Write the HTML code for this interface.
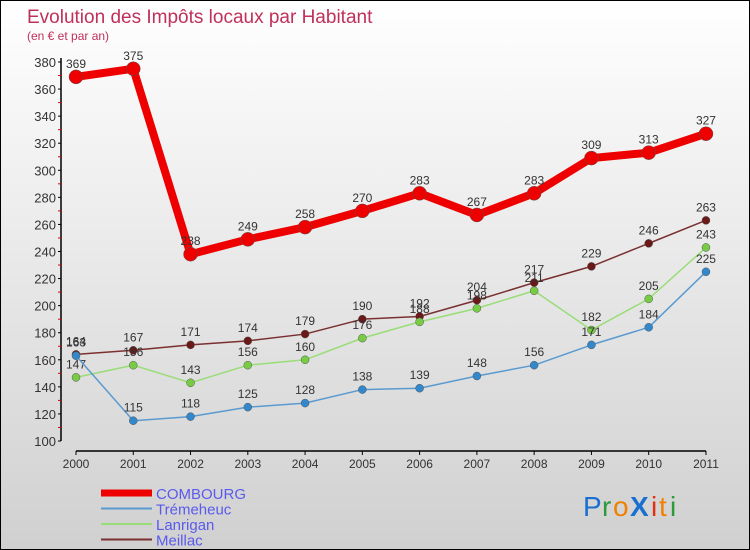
<!DOCTYPE html>
<html><head><meta charset="utf-8"><style>
body{margin:0}
#c{position:relative;width:750px;height:550px;box-sizing:border-box;border:1px solid #000;background:linear-gradient(#ffffff,#d0d0d0);font-family:"Liberation Sans",sans-serif;overflow:hidden}
</style></head><body>
<div id="c">
<svg width="750" height="550" style="position:absolute;left:0;top:0" id="svg">
<text x="26" y="22" font-size="19" fill="#c0305a">Evolution des Impôts locaux par Habitant</text>
<text x="26" y="39" font-size="12" fill="#c0305a">(en € et par an)</text>
<g id="axes"></g><g id="series"></g>
<g id="legend"></g>
<g font-size="28" font-family="'Liberation Sans',sans-serif">
<text x="582" y="515" fill="#1a70d0">P</text><text x="601" y="515" fill="#2a9a3a">r</text><text x="612" y="515" fill="#f08000">o</text><text x="629" y="515" fill="#1a70d0" font-weight="bold">X</text><text x="650" y="515" fill="#e03010">i</text><text x="658" y="515" fill="#f08000">t</text><text x="669" y="515" fill="#2a9a3a">i</text>
</g>
</svg>
</div>
<script>
const years=["2000","2001","2002","2003","2004","2005","2006","2007","2008","2009","2010","2011"];
const yTicks=[100,120,140,160,180,200,220,240,260,280,300,320,340,360,380];
const combourg=[369,375,238,249,258,270,283,267,283,309,313,327];
const tremeheuc=[163,115,118,125,128,138,139,148,156,171,184,225];
const lanrigan=[147,156,143,156,160,176,188,198,211,182,205,243];
const meillac=[164,167,171,174,179,190,192,204,217,229,246,263];
const NS="http://www.w3.org/2000/svg";
function X(i){return 75+i*57.27;}
function Y(v){return 440-(v-100)*1.3536;}
function mk(t,a,p){const e=document.createElementNS(NS,t);for(const k in a)e.setAttribute(k,a[k]);p.appendChild(e);return e;}
const ax=document.getElementById('axes');
mk('line',{x1:60,y1:57,x2:60,y2:440,stroke:'#000','stroke-width':1.5},ax);
mk('line',{x1:75,y1:450,x2:705,y2:450,stroke:'#000','stroke-width':1.5},ax);
yTicks.forEach(v=>{
 mk('line',{x1:57,y1:Y(v),x2:60,y2:Y(v),stroke:'#000'},ax);
 if(v<380)mk('line',{x1:57,y1:Y(v+10),x2:60,y2:Y(v+10),stroke:'#e00000'},ax);
 const t=mk('text',{x:55,y:Y(v)+5,'font-size':13,'text-anchor':'end',fill:'#333'},ax);t.textContent=v;
 
 
});
years.forEach((y,i)=>{
 mk('line',{x1:X(i),y1:450,x2:X(i),y2:454,stroke:'#000'},ax);
 const t=mk('text',{x:X(i),y:467,'font-size':12,'text-anchor':'middle',fill:'#333'},ax);t.textContent=y;
 
 
});
const sg=document.getElementById('series');
function series(name,vals,color,w,r,dot){
 const g=mk('g',{},sg);
 
 
 mk('polyline',{points:vals.map((v,i)=>X(i)+','+Y(v)).join(' '),fill:'none',stroke:color,'stroke-width':w,'stroke-linejoin':'round'},g);
 vals.forEach((v,i)=>{
  const c=mk('circle',{cx:X(i),cy:Y(v),r:r,fill:dot,stroke:'#555','stroke-width':0.5},g);
  
  
  const t=mk('text',{x:X(i),y:Y(v)-9,'font-size':12,'text-anchor':'middle',fill:'#333'},g);t.textContent=v;
  
  
 });
}
series('meillac',meillac,'#7a3030',1.5,4,'#6a1818');
series('lanrigan',lanrigan,'#99dd77',1.5,4,'#77cc44');
series('tremeheuc',tremeheuc,'#5a9ad0',1.5,4,'#3388cc');
series('combourg',combourg,'#ee0000',8,7,'#ee0000');
const lg=document.getElementById('legend');
const L=[['COMBOURG','#ee0000',7,14],['Trémeheuc','#5a9ad0',2,12],['Lanrigan','#99dd77',2,12],['Meillac','#7a3030',2,12]];
L.forEach((l,i)=>{
 const y=492+i*15.5;
 mk('line',{x1:100,y1:y,x2:151,y2:y,stroke:l[1],'stroke-width':l[2]},lg);
 const t=mk('text',{x:155,y:y+6,'font-size':15,fill:'#5a5aee'},lg);t.textContent=l[0];
 
 
});
</script>
</body></html>
